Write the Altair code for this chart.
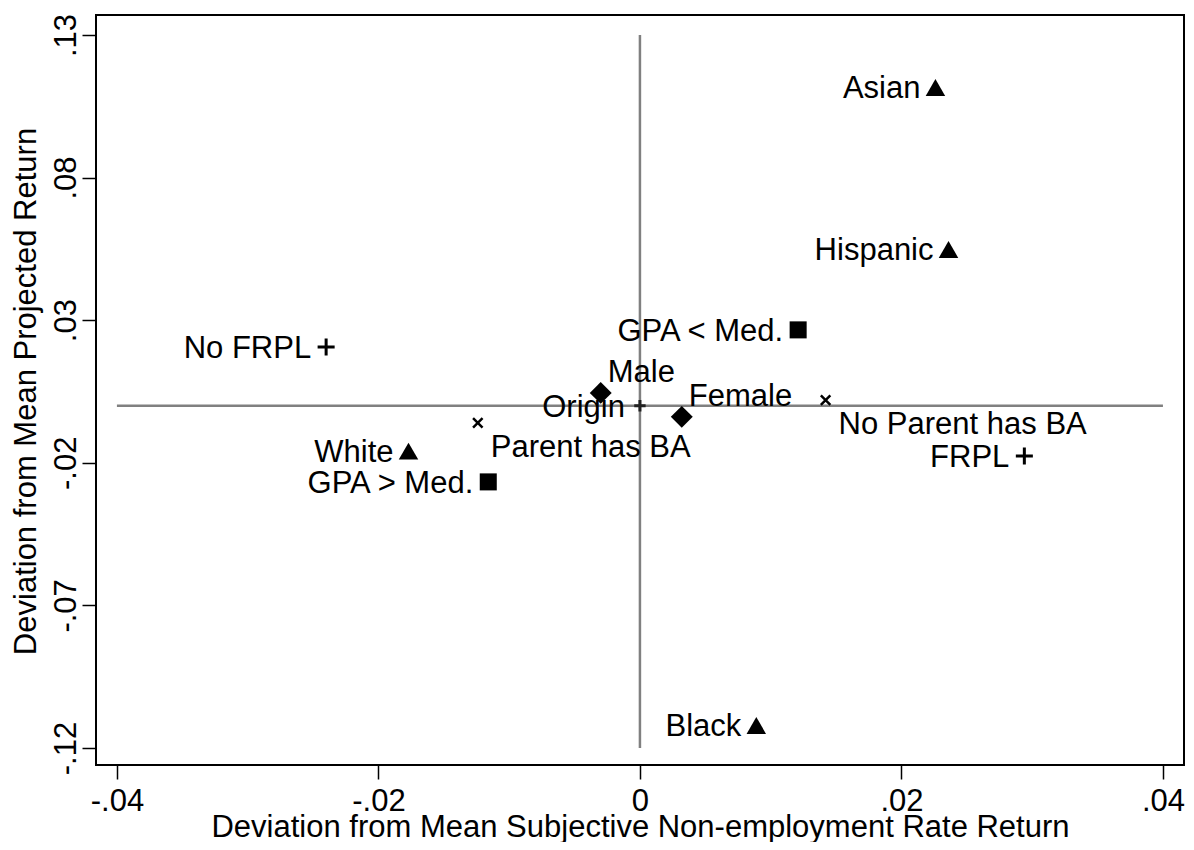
import altair as alt
import pandas as pd

# ---- data ----
labels = ["Asian", "Hispanic", "Black", "White", "GPA < Med.", "GPA > Med.",
          "No FRPL", "FRPL", "Male", "Female", "No Parent has BA", "Parent has BA", "Origin"]
x_dev = [0.0226, 0.0236, 0.0089, -0.0177, 0.0121, -0.0116,
         -0.0240, 0.0294, -0.0030, 0.0032, 0.0142, -0.0124, 0.0]
y_dev = [0.1116, 0.0548, -0.1121, -0.0159, 0.0266, -0.0267,
         0.0206, -0.0176, 0.0045, -0.0039, 0.0020, -0.0060, 0.0]
marker = ["triangle", "triangle", "triangle", "triangle", "square", "square",
          "plus", "plus", "diamond", "diamond", "x", "x", "origin"]
label_pos = ["left", "left", "left", "left", "left", "left",
             "left", "left", "upright", "upright", "downright", "downright", "left"]

x_ticks = [-0.04, -0.02, 0.0, 0.02, 0.04]
y_ticks = [-0.12, -0.07, -0.02, 0.03, 0.08, 0.13]

# reference lines
hline = pd.DataFrame({"x": [-0.04], "x2": [0.04], "y": [0.0]})
vline = pd.DataFrame({"y": [-0.12], "y2": [0.13], "x": [0.0]})

df = pd.DataFrame({"label": labels, "x": x_dev, "y": y_dev,
                   "marker": marker, "pos": label_pos})

FONT = "Liberation Sans"
FS = 31
W, H = 1088, 750

lab_expr = "datum.value == 0 ? '0' : (datum.value < 0 ? '-' : '') + replace(format(abs(datum.value), '.2f'), '0.', '.')"

xs = alt.Scale(domain=[-0.0416, 0.04161], nice=False, zero=False)
ys = alt.Scale(domain=[-0.12596, 0.137], nice=False, zero=False)

X = alt.X("x:Q", scale=xs,
          axis=alt.Axis(values=x_ticks, labelExpr=lab_expr,
                        title="Deviation from Mean Subjective Non-employment Rate Return",
                        labelPadding=7, titleY=71, titleBaseline="alphabetic"))
Y = alt.Y("y:Q", scale=ys,
          axis=alt.Axis(values=y_ticks, labelExpr=lab_expr,
                        title="Deviation from Mean Projected Return",
                        labelAngle=270, labelAlign="center", labelBaseline="alphabetic",
                        labelPadding=7, titleAngle=270, titleX=-70, titleY=376,
                        titleAlign="center", titleBaseline="middle"))

base = alt.Chart(df)

h_rule = alt.Chart(hline).mark_rule(color="#808080", strokeWidth=2.5).encode(
    x=alt.X("x:Q", scale=xs), x2="x2:Q", y=alt.Y("y:Q", scale=ys))
v_rule = alt.Chart(vline).mark_rule(color="#808080", strokeWidth=2.5).encode(
    x=alt.X("x:Q", scale=xs), y=alt.Y("y:Q", scale=ys), y2="y2:Q")

PLUS = "M-1,0L1,0M0,-1L0,1"
XMARK = "M-1,-1L1,1M-1,1L1,-1"

tri = base.transform_filter(alt.datum.marker == "triangle").mark_point(
    shape="triangle-up", filled=True, color="black", size=380, opacity=1).encode(x=X, y=Y)
sq = base.transform_filter(alt.datum.marker == "square").mark_point(
    shape="square", filled=True, color="black", size=290, opacity=1).encode(x=X, y=Y)
dia = base.transform_filter(alt.datum.marker == "diamond").mark_point(
    shape="diamond", filled=True, color="black", size=480, opacity=1).encode(x=X, y=Y)
plus = base.transform_filter(alt.datum.marker == "plus").mark_point(
    shape=PLUS, filled=False, color="black", size=290, strokeWidth=3, opacity=1).encode(x=X, y=Y)
xm = base.transform_filter(alt.datum.marker == "x").mark_point(
    shape=XMARK, filled=False, color="black", size=90, strokeWidth=2.5, opacity=1).encode(x=X, y=Y)
org = base.transform_filter(alt.datum.marker == "origin").mark_point(
    shape=PLUS, filled=False, color="#222222", size=130, strokeWidth=3, opacity=1).encode(x=X, y=Y)

txt_left = base.transform_filter(alt.datum.pos == "left").mark_text(
    align="right", baseline="middle", dx=-15, dy=2, font=FONT, fontSize=FS, color="black"
).encode(x=X, y=Y, text="label:N")
txt_ur = base.transform_filter(alt.datum.pos == "upright").mark_text(
    align="left", baseline="middle", dx=7, dy=-20, font=FONT, fontSize=FS, color="black"
).encode(x=X, y=Y, text="label:N")
txt_dr = base.transform_filter(alt.datum.pos == "downright").mark_text(
    align="left", baseline="middle", dx=13, dy=25, font=FONT, fontSize=FS, color="black"
).encode(x=X, y=Y, text="label:N")

chart = alt.layer(h_rule, v_rule, tri, sq, dia, plus, xm, org, txt_left, txt_ur, txt_dr).properties(
    width=W, height=H,
    autosize=alt.AutoSizeParams(type="none"),
    padding={"left": 88, "top": 7, "right": 2, "bottom": 77},
    background="white",
).configure_view(
    stroke="black", strokeWidth=2
).configure_axis(
    labelFont=FONT, labelFontSize=FS, labelColor="black",
    titleFont=FONT, titleFontSize=FS, titleFontWeight="normal", titleColor="black",
    tickSize=14, tickColor="black", tickWidth=1.5, domain=False, grid=False,
)

chart.save("out.html", embed_options={"renderer": "svg", "actions": False})
